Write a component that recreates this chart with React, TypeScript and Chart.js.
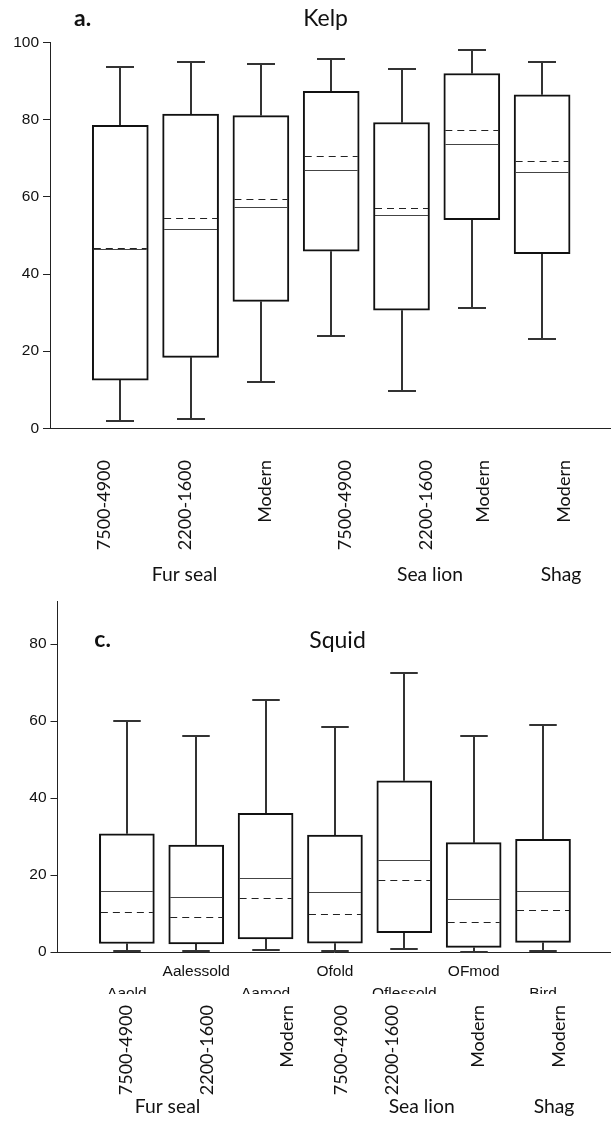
import React, { useEffect, useRef } from 'react';
import { Chart, registerables } from 'chart.js';

Chart.register(...registerables);

// ---- data ----
const SLOTS = [1, 2, 3, 4, 5, 6, 7];
const PERIODS = ['7500-4900', '2200-1600', 'Modern', '7500-4900', '2200-1600', 'Modern', 'Modern'];
const GROUPS = ['Fur seal', 'Sea lion', 'Shag'];
const SQUID_CODES = ['Aaold', 'Aalessold', 'Aamod', 'Ofold', 'Oflessold', 'OFmod', 'Bird'];

const KELP_MIN = [1.9, 2.3, 11.9, 23.8, 9.7, 31.3, 23.1];
const KELP_Q1 = [12.5, 18.4, 32.9, 45.9, 30.6, 54.1, 45.3];
const KELP_MEDIAN = [46.4, 51.7, 57.3, 67.1, 55.2, 73.7, 66.4];
const KELP_MEAN = [46.8, 54.6, 59.5, 70.5, 57.0, 77.4, 69.4];
const KELP_Q3 = [78.6, 81.5, 81.1, 87.4, 79.3, 92.0, 86.5];
const KELP_MAX = [93.6, 94.9, 94.5, 95.9, 93.3, 98.0, 95.1];
const KELP_Y_TICKS = [0, 20, 40, 60, 80, 100];

const SQUID_MIN = [0.3, 0.3, 0.4, 0.3, 0.7, 0.0, 0.3];
const SQUID_Q1 = [2.2, 2.1, 3.4, 2.3, 5.0, 1.2, 2.5];
const SQUID_MEDIAN = [15.9, 14.4, 19.1, 15.6, 23.8, 13.8, 15.9];
const SQUID_MEAN = [10.4, 9.1, 14.0, 9.9, 18.7, 7.9, 10.9];
const SQUID_Q3 = [30.7, 27.8, 36.0, 30.4, 44.5, 28.4, 29.3];
const SQUID_MAX = [59.9, 56.0, 65.6, 58.5, 72.4, 56.0, 58.9];
const SQUID_Y_TICKS = [0, 20, 40, 60, 80];

// ---- styling ----
const W = 611;
const TEXT_FONT = 'Lato, "Open Sans", sans-serif';
const AXIS_FONT = '"Liberation Sans", Arial, sans-serif';
const INK = '#111';
const AXIS_COLOR = '#222';
const WHISKER_COLOR = '#333';

type Panel = {
  letter: string;
  title: string;
  min: number[];
  q1: number[];
  median: number[];
  mean: number[];
  q3: number[];
  max: number[];
  yMax: number;
  yTicks: number[];
  codes: string[] | null;
  canvasHeight: number;
  axisLeft: number;
  plotTop: number;
  xAxisHeight: number;
  boxWidth: number;
  titleX: number;
  letterX: number;
  titleBaseline: number;
  letterBaseline: number;
};

const KELP_PANEL: Panel = {
  letter: 'a.',
  title: 'Kelp',
  min: KELP_MIN,
  q1: KELP_Q1,
  median: KELP_MEDIAN,
  mean: KELP_MEAN,
  q3: KELP_Q3,
  max: KELP_MAX,
  yMax: 100,
  yTicks: KELP_Y_TICKS,
  codes: null,
  canvasHeight: 440,
  axisLeft: 50,
  plotTop: 42.7,
  xAxisHeight: 3,
  boxWidth: 56,
  titleX: 325.6,
  letterX: 74,
  titleBaseline: 26,
  letterBaseline: 26,
};

const SQUID_PANEL: Panel = {
  letter: 'c.',
  title: 'Squid',
  min: SQUID_MIN,
  q1: SQUID_Q1,
  median: SQUID_MEDIAN,
  mean: SQUID_MEAN,
  q3: SQUID_Q3,
  max: SQUID_MAX,
  yMax: 91,
  yTicks: SQUID_Y_TICKS,
  codes: SQUID_CODES,
  canvasHeight: 404,
  axisLeft: 57.5,
  plotTop: 8.3,
  xAxisHeight: 42,
  boxWidth: 55,
  titleX: 337.5,
  letterX: 94.3,
  titleBaseline: 58.3,
  letterBaseline: 57.3,
};

// whiskers behind the boxes, median (solid) and mean (dashed) on top
function boxDecorations(p: Panel) {
  return {
    id: 'boxDecorations',
    beforeDatasetsDraw(chart: any) {
      const { ctx } = chart;
      const y = chart.scales.y;
      const meta = chart.getDatasetMeta(0);
      ctx.save();
      ctx.strokeStyle = WHISKER_COLOR;
      ctx.lineWidth = 2;
      meta.data.forEach((bar: any, i: number) => {
        const { x, width } = bar.getProps(['x', 'width'], true);
        const cx = Math.round(x);
        const half = width / 4;
        const yHi = Math.round(y.getPixelForValue(p.max[i]));
        const yQ3 = y.getPixelForValue(p.q3[i]);
        const yQ1 = y.getPixelForValue(p.q1[i]);
        const yLo = Math.round(y.getPixelForValue(p.min[i]));
        ctx.beginPath();
        ctx.moveTo(cx, yQ3);
        ctx.lineTo(cx, yHi);
        ctx.moveTo(cx - half, yHi);
        ctx.lineTo(cx + half, yHi);
        ctx.moveTo(cx, yQ1);
        ctx.lineTo(cx, yLo);
        ctx.moveTo(cx - half, yLo);
        ctx.lineTo(cx + half, yLo);
        ctx.stroke();
      });
      ctx.restore();
    },
    afterDatasetsDraw(chart: any) {
      const { ctx } = chart;
      const y = chart.scales.y;
      const meta = chart.getDatasetMeta(0);
      ctx.save();
      ctx.lineWidth = 1.2;
      meta.data.forEach((bar: any, i: number) => {
        const { x, width } = bar.getProps(['x', 'width'], true);
        const left = x - width / 2 + 1.5;
        const right = x + width / 2 - 1.5;
        const yMed = Math.round(y.getPixelForValue(p.median[i])) + 0.5;
        const yMean = Math.round(y.getPixelForValue(p.mean[i])) + 0.5;
        ctx.strokeStyle = '#444';
        ctx.setLineDash([]);
        ctx.beginPath();
        ctx.moveTo(left, yMed);
        ctx.lineTo(right, yMed);
        ctx.stroke();
        ctx.strokeStyle = '#222';
        ctx.setLineDash([7, 5]);
        ctx.beginPath();
        ctx.moveTo(left, yMean);
        ctx.lineTo(right, yMean);
        ctx.stroke();
      });
      ctx.restore();
    },
    afterDraw(chart: any) {
      const { ctx } = chart;
      ctx.save();
      ctx.fillStyle = INK;
      ctx.textBaseline = 'alphabetic';
      ctx.font = `23px ${TEXT_FONT}`;
      ctx.textAlign = 'center';
      ctx.fillText(p.title, p.titleX, p.titleBaseline);
      ctx.font = `bold 23px ${TEXT_FONT}`;
      ctx.textAlign = 'left';
      ctx.fillText(p.letter, p.letterX, p.letterBaseline);
      ctx.restore();
    },
  };
}

function makeChart(canvas: HTMLCanvasElement, p: Panel) {
  return new Chart(canvas, {
    type: 'bar',
    data: {
      datasets: [
        {
          data: SLOTS.map((s, i) => ({ x: s, y: [p.q1[i], p.q3[i]] })) as any,
          backgroundColor: '#fff',
          borderColor: INK,
          borderWidth: 2,
          borderSkipped: false,
          barThickness: p.boxWidth,
        },
      ],
    },
    options: {
      animation: false,
      responsive: false,
      maintainAspectRatio: false,
      events: [],
      layout: { padding: { top: p.plotTop, left: 0, right: 0, bottom: 0 } },
      plugins: { legend: { display: false }, tooltip: { enabled: false }, title: { display: false } },
      scales: {
        x: {
          type: 'linear',
          min: 0,
          max: 7.98,
          offset: false,
          afterBuildTicks: (s: any) => {
            s.ticks = SLOTS.map((v) => ({ value: v }));
          },
          ticks: {
            display: !!p.codes,
            autoSkip: false,
            maxRotation: 0,
            minRotation: 0,
            padding: 8.5,
            color: INK,
            font: { family: AXIS_FONT, size: 15.5, lineHeight: 1.42 },
            callback: (_v: any, i: number) => {
              if (!p.codes) return '';
              return i % 2 === 0 ? ['', p.codes[i]] : [p.codes[i]];
            },
          },
          grid: { display: false, drawTicks: false, offset: false },
          border: { display: true, color: AXIS_COLOR, width: 1 },
          afterFit: (s: any) => {
            s.height = p.xAxisHeight;
          },
        },
        y: {
          min: 0,
          max: p.yMax,
          afterBuildTicks: (s: any) => {
            s.ticks = p.yTicks.map((v) => ({ value: v }));
          },
          ticks: {
            color: INK,
            padding: 4,
            font: { family: AXIS_FONT, size: 15.5, lineHeight: 1 },
          },
          grid: { drawOnChartArea: false, drawTicks: true, tickLength: 7, color: AXIS_COLOR, lineWidth: 1 },
          border: { display: true, color: AXIS_COLOR, width: 1 },
          afterFit: (s: any) => {
            s.width = p.axisLeft;
          },
        },
      },
    } as any,
    plugins: [boxDecorations(p)],
  });
}

// period names written bottom-to-top, species names underneath
type Strip = {
  height: number;
  periodX: number[];
  periodTop: number;
  groupX: number[];
  groupBaseline: number;
};

const KELP_STRIP: Strip = {
  height: 150,
  periodX: [104, 184.7, 265, 345, 425.8, 483, 563.8],
  periodTop: 20,
  groupX: [184.5, 430, 561],
  groupBaseline: 141,
};

const SQUID_STRIP: Strip = {
  height: 128,
  periodX: [125.8, 207, 286.7, 340.5, 391.7, 477.5, 558.3],
  periodTop: 11,
  groupX: [167.5, 421.7, 554],
  groupBaseline: 119.3,
};

function drawStrip(canvas: HTMLCanvasElement, s: Strip) {
  const ctx = canvas.getContext('2d');
  if (!ctx) return;
  ctx.clearRect(0, 0, canvas.width, canvas.height);
  ctx.fillStyle = INK;
  const size = 18;
  const capHalf = size * 0.717 * 0.5;
  PERIODS.forEach((text, i) => {
    ctx.save();
    ctx.translate(s.periodX[i], s.periodTop);
    ctx.rotate(-Math.PI / 2);
    ctx.font = `${size}px ${TEXT_FONT}`;
    ctx.textAlign = 'right';
    ctx.textBaseline = 'alphabetic';
    ctx.fillText(text, 0, capHalf);
    ctx.restore();
  });
  ctx.font = `19.3px ${TEXT_FONT}`;
  ctx.textAlign = 'center';
  ctx.textBaseline = 'alphabetic';
  GROUPS.forEach((text, i) => {
    ctx.fillText(text, s.groupX[i], s.groupBaseline);
  });
}

function BoxPanel({ panel, top }: { panel: Panel; top: number }) {
  const ref = useRef<HTMLCanvasElement | null>(null);
  useEffect(() => {
    if (!ref.current) return;
    const chart = makeChart(ref.current, panel);
    return () => chart.destroy();
  }, [panel]);
  return (
    <canvas
      ref={ref}
      width={W}
      height={panel.canvasHeight}
      style={{ position: 'absolute', left: 0, top, width: W, height: panel.canvasHeight, display: 'block' }}
    />
  );
}

function LabelStrip({ strip, top }: { strip: Strip; top: number }) {
  const ref = useRef<HTMLCanvasElement | null>(null);
  useEffect(() => {
    if (!ref.current) return;
    const c = ref.current;
    drawStrip(c, strip);
    let alive = true;
    if ((document as any).fonts) {
      (document as any).fonts.load(`18px ${TEXT_FONT}`).then(() => {
        if (alive) drawStrip(c, strip);
      });
    }
    return () => {
      alive = false;
    };
  }, [strip]);
  return (
    <canvas
      ref={ref}
      width={W}
      height={strip.height}
      style={{ position: 'absolute', left: 0, top, width: W, height: strip.height, display: 'block' }}
    />
  );
}

export default function App() {
  return (
    <div style={{ position: 'absolute', left: 0, top: 0, width: W, height: 1122, background: '#fff', overflow: 'hidden' }}>
      <BoxPanel panel={KELP_PANEL} top={0} />
      <LabelStrip strip={KELP_STRIP} top={440} />
      <BoxPanel panel={SQUID_PANEL} top={590} />
      <LabelStrip strip={SQUID_STRIP} top={994} />
    </div>
  );
}
